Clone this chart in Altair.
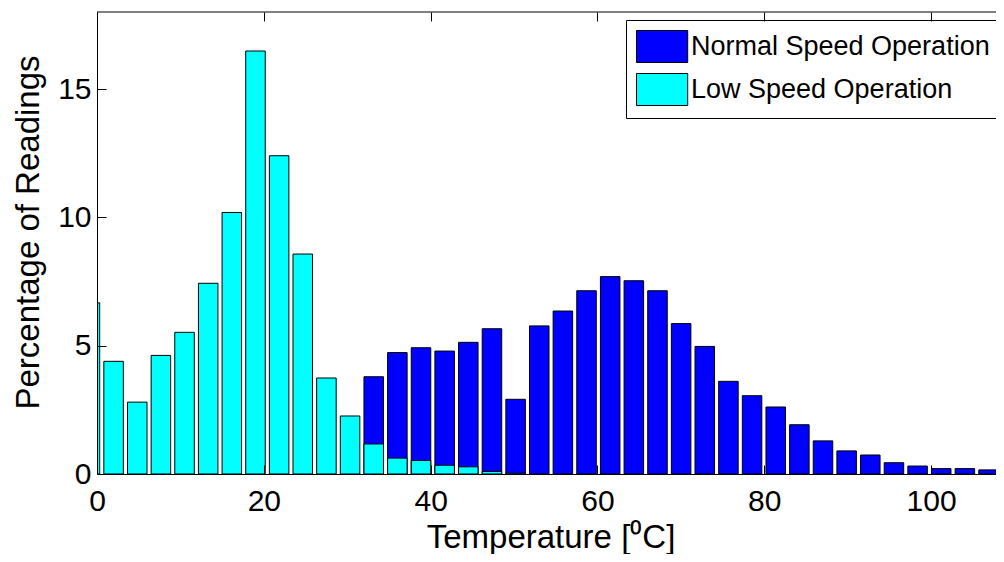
import altair as alt
import pandas as pd

# Histogram bin centres (deg C)
bin_centers = [-0.845, 1.99, 4.825, 7.66, 10.495, 13.33, 16.165, 19.0, 21.835, 24.67,
               27.505, 30.34, 33.175, 36.01, 38.845, 41.68, 44.515, 47.35, 50.185, 53.02,
               55.855, 58.69, 61.525, 64.36, 67.195, 70.03, 72.865, 75.7, 78.535, 81.37,
               84.205, 87.04, 89.875, 92.71, 95.545, 98.38, 101.215, 104.05, 106.885, 109.72]

# Percentage of readings per bin
normal_speed = [0, 0, 0, 0, 0, 0, 0, 0, 0, 0,
                0, 0, 3.79, 4.73, 4.92, 4.79, 5.13, 5.66, 2.91, 5.77,
                6.35, 7.14, 7.69, 7.53, 7.14, 5.86, 4.97, 3.61, 3.05, 2.61,
                1.92, 1.29, 0.90, 0.74, 0.44, 0.31, 0.21, 0.21, 0.16, 0.05]
low_speed = [6.67, 4.39, 2.80, 4.62, 5.52, 7.43, 10.19, 16.48, 12.40, 8.57,
             3.74, 2.26, 1.17, 0.62, 0.53, 0.34, 0.28, 0.10, 0.03, 0,
             0, 0, 0, 0, 0, 0, 0, 0, 0, 0,
             0, 0, 0, 0, 0, 0, 0, 0, 0, 0]

series_names = ["Normal Speed Operation", "Low Speed Operation"]
series_colors = ["#0000ff", "#00ffff"]
x_ticks = [0, 20, 40, 60, 80, 100]
y_ticks = [0, 5, 10, 15]
x_domain = [0, 107.78]
y_domain = [0, 18]

rows = []
for c, v in zip(bin_centers, normal_speed):
    rows.append({"center": c, "value": v, "series": series_names[0]})
for c, v in zip(bin_centers, low_speed):
    rows.append({"center": c, "value": v, "series": series_names[1]})
df = pd.DataFrame(rows)

FONT = "Liberation Sans"
HALF = 1.17
W, H = 899, 462

x_scale = alt.Scale(domain=x_domain, nice=False, zero=False)
y_scale = alt.Scale(domain=y_domain, nice=False)

bars = (
    alt.Chart(df)
    .transform_filter("datum.value > 0")
    .transform_calculate(lo=f"datum.center - {HALF}", hi=f"datum.center + {HALF}")
    .mark_bar(stroke="black", strokeWidth=1, clip=True)
    .encode(
        x=alt.X(
            "lo:Q",
            scale=x_scale,
            title="Temperature [⁰C]",
            axis=alt.Axis(
                values=x_ticks, labelFontSize=30, labelFont=FONT, labelColor="black",
                ticks=False, tickSize=0, labelPadding=36, labelBaseline="alphabetic",
                labelFlush=False, labelOverlap=False,
                domainColor="black", domainWidth=1,
                grid=True, gridColor="black", gridWidth=1, gridOpacity=1,
                gridDash=[9, H - 18, 9, 1000],
                titleFontSize=33, titleFont=FONT, titleFontWeight="normal", titleColor="black",
                titleX=907 / 2, titleY=73, titleAlign="center", titleBaseline="alphabetic",
                zindex=1,
            ),
        ),
        x2="hi:Q",
        y=alt.Y(
            "value:Q",
            scale=y_scale,
            stack=None,
            title="Percentage of Readings",
            axis=alt.Axis(
                values=y_ticks, labelFontSize=30, labelFont=FONT, labelColor="black",
                ticks=False, tickSize=0, labelPadding=6,
                labelFlush=False, labelOverlap=False,
                domainColor="black", domainWidth=1,
                grid=True, gridColor="black", gridWidth=1, gridOpacity=1,
                gridDash=[9, 3000],
                titleFontSize=33, titleFont=FONT, titleFontWeight="normal", titleColor="black",
                titleAngle=270, titleX=-59, titleY=220, titleAlign="center",
                titleBaseline="alphabetic",
                zindex=1,
            ),
        ),
        y2=alt.datum(0),
        color=alt.Color(
            "series:N",
            scale=alt.Scale(domain=series_names, range=series_colors),
            legend=alt.Legend(
                orient="none", legendX=529, legendY=8, title=None,
                symbolType="M-1,-1L2.2,-1L2.2,1L-1,1Z", symbolSize=1024,
                symbolStrokeColor="black", symbolStrokeWidth=1, symbolOpacity=1,
                labelFontSize=27, labelFont=FONT, labelColor="black",
                labelExpr="datum.label + '\u00a0\u00a0\u00a0\u00a0\u00a0\u00a0\u00a0\u00a0'",
                labelOffset=22, labelLimit=800, rowPadding=6, padding=10,
                strokeColor="black", fillColor="white", cornerRadius=0,
            ),
        ),
    )
)

top_line = alt.Chart().mark_rule(color="black", strokeWidth=1).encode(
    x=alt.datum(x_domain[0], scale=x_scale),
    x2=alt.datum(x_domain[1]),
    y=alt.datum(y_domain[1], scale=y_scale),
)

chart = (
    alt.layer(bars, top_line)
    .properties(
        width=W, height=H,
        autosize=alt.AutoSizeParams(type="none"),
        padding={"left": 89, "top": 4, "right": 0, "bottom": 80},
        background="white",
    )
    .configure_view(strokeOpacity=0)
)

chart.save("out.html", embed_options={"renderer": "svg", "actions": False})
